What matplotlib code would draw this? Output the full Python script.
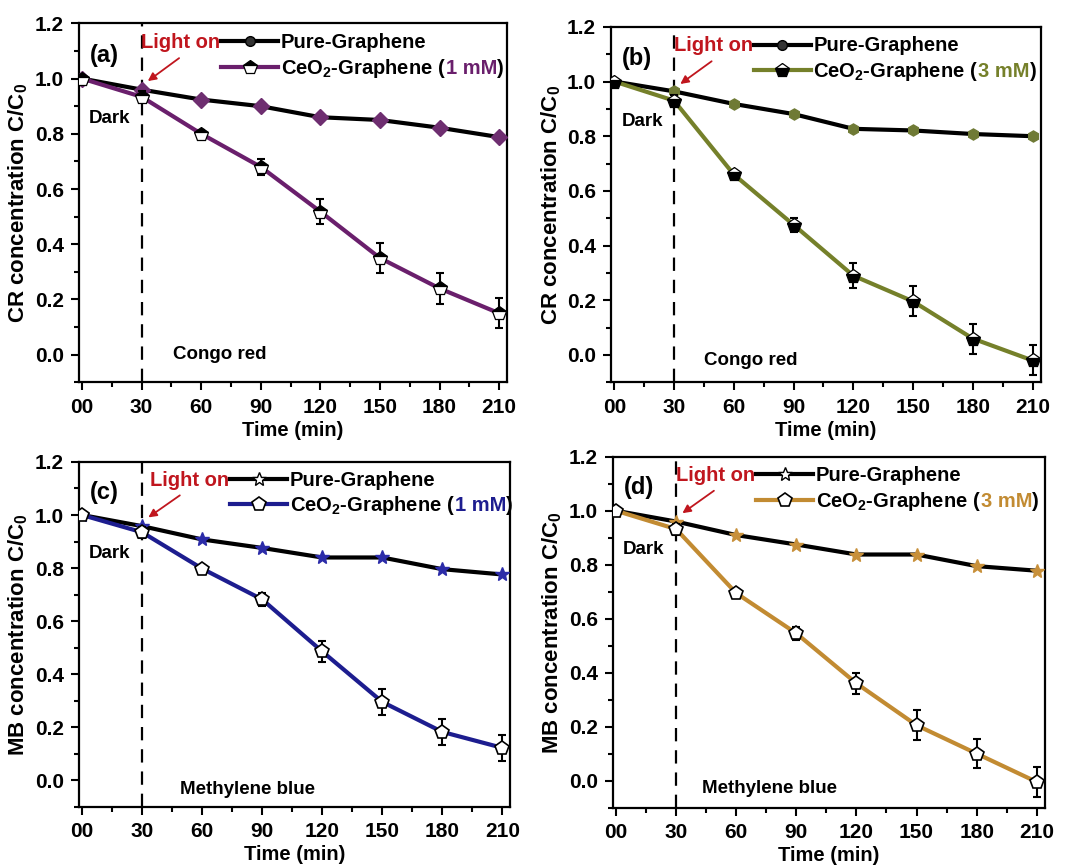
import matplotlib
matplotlib.use("Agg")
import matplotlib.pyplot as plt
from matplotlib.lines import Line2D
from matplotlib.offsetbox import TextArea, DrawingArea, HPacker, AnchoredOffsetbox
from matplotlib.ticker import MultipleLocator, FixedLocator, FixedFormatter

plt.rcParams['font.family'] = ['Liberation Sans', 'DejaVu Sans']
plt.rcParams['font.weight'] = 'bold'
plt.rcParams['axes.labelweight'] = 'bold'
plt.rcParams['mathtext.default'] = 'regular'

# ---------------- data ----------------
time = [0, 30, 60, 90, 120, 150, 180, 210]
xtick_labels = ["00", "30", "60", "90", "120", "150", "180", "210"]
yticks = [0.0, 0.2, 0.4, 0.6, 0.8, 1.0, 1.2]

a_pure = [1.0, 0.96, 0.924, 0.90, 0.86, 0.85, 0.822, 0.788]
a_ceo2 = [1.0, 0.934, 0.80, 0.68, 0.518, 0.35, 0.24, 0.15]
a_err = [0, 0.02, 0.012, 0.03, 0.045, 0.055, 0.055, 0.055]

b_pure = [1.0, 0.964, 0.918, 0.881, 0.827, 0.821, 0.808, 0.80]
b_ceo2 = [1.0, 0.93, 0.66, 0.476, 0.29, 0.196, 0.06, -0.02]
b_err = [0, 0.02, 0.015, 0.025, 0.045, 0.055, 0.055, 0.055]

c_pure = [1.0, 0.958, 0.908, 0.876, 0.84, 0.84, 0.796, 0.776]
c_ceo2 = [1.0, 0.935, 0.798, 0.682, 0.486, 0.296, 0.183, 0.123]
c_err = [0, 0.02, 0.012, 0.025, 0.04, 0.05, 0.05, 0.05]

d_pure = [1.0, 0.96, 0.91, 0.875, 0.838, 0.838, 0.795, 0.778]
d_ceo2 = [1.0, 0.932, 0.695, 0.546, 0.361, 0.206, 0.101, -0.004]
d_err = [0, 0.02, 0.015, 0.025, 0.04, 0.055, 0.055, 0.055]

panels = [
    dict(tag="(a)", pure=a_pure, ceo2=a_ceo2, err=a_err, conc="1 mM", dye="Congo red",
         ylabel="CR concentration C/C$_0$", color="#6a1f6c", pmark="D", pcolor="#6e2e70",
         cfill="top", pos=[0.0742, 0.558, 0.402, 0.415], dye_xy=(46, 0.0), leg_x=70),
    dict(tag="(b)", pure=b_pure, ceo2=b_ceo2, err=b_err, conc="3 mM", dye="Congo red",
         ylabel="CR concentration C/C$_0$", color="#75802a", pmark="h", pcolor="#6f7a35",
         cfill="bottom", pos=[0.574, 0.558, 0.403, 0.411], dye_xy=(45, -0.02), leg_x=70),
    dict(tag="(c)", pure=c_pure, ceo2=c_ceo2, err=c_err, conc="1 mM", dye="Methylene blue",
         ylabel="MB concentration C/C$_0$", color="#1d1d8f", pmark="*", pcolor="#2b2ba8",
         cfill="full", pos=[0.0742, 0.067, 0.405, 0.399], dye_xy=(49, -0.035), leg_x=74),
    dict(tag="(d)", pure=d_pure, ceo2=d_ceo2, err=d_err, conc="3 mM", dye="Methylene blue",
         ylabel="MB concentration C/C$_0$", color="#c28b32", pmark="*", pcolor="#c8903a",
         cfill="full", pos=[0.5756, 0.066, 0.4054, 0.406], dye_xy=(43, -0.03), leg_x=70),
]

fig = plt.figure(figsize=(10.65, 8.65), dpi=100)
FS_TICK = 15
FS_LEG = 14.5
XMIN, XMAX, YMIN, YMAX = -1.5, 214, -0.1, 1.2


def cmarker_kw(fill, ms):
    if fill == "full":
        return dict(marker="p", ms=ms, mfc="white", mec="black", mew=1.2)
    return dict(marker="p", ms=ms, fillstyle=fill, mfc="black", mfcalt="white", mec="black", mew=0.9)


for p in panels:
    ax = fig.add_axes(p["pos"])
    ax.axvline(30, color="black", lw=1.6, ls=(0, (6, 4)), zorder=1)
    star = p["pmark"] == "*"
    ax.plot(time, p["pure"], color="black", lw=3, marker=p["pmark"], ms=10 if star else 8,
            mfc=p["pcolor"], mec=p["pcolor"], zorder=3)
    ax.errorbar(time, p["ceo2"], yerr=p["err"], fmt="none", ecolor="black", elinewidth=1.5,
                capsize=3, capthick=1.5, zorder=4)
    ms_c = 10
    ax.plot(time, p["ceo2"], color=p["color"], lw=3, zorder=5, **cmarker_kw(p["cfill"], ms_c))

    ax.set_xlim(XMIN, XMAX)
    ax.set_ylim(YMIN, YMAX)
    ax.xaxis.set_major_locator(FixedLocator(time))
    ax.xaxis.set_major_formatter(FixedFormatter(xtick_labels))
    ax.xaxis.set_minor_locator(MultipleLocator(15))
    ax.yaxis.set_major_locator(FixedLocator(yticks))
    ax.yaxis.set_major_formatter(FixedFormatter(["%.1f" % v for v in yticks]))
    ax.yaxis.set_minor_locator(MultipleLocator(0.1))
    ax.tick_params(which="major", direction="out", length=6, width=1.5, labelsize=FS_TICK, pad=5)
    ax.tick_params(which="minor", direction="out", length=3.5, width=1.5)
    for lab in ax.get_xticklabels() + ax.get_yticklabels():
        lab.set_fontweight("bold")
    for s in ax.spines.values():
        s.set_linewidth(1.6)
    ax.set_xlabel("Time (min)", fontsize=14.5, fontweight="bold", labelpad=3)
    ax.set_ylabel(p["ylabel"], fontsize=16, fontweight="bold", labelpad=3)

    ax.text(4, 1.085, p["tag"], fontsize=17, fontweight="bold", va="center", ha="left")
    ax.text(3.5, 0.855, "Dark", fontsize=13.5, fontweight="bold", va="center", ha="left")
    ax.text(p["dye_xy"][0], p["dye_xy"][1], p["dye"], fontsize=13.5, fontweight="bold",
            va="center", ha="left")

    # custom legend rows
    tp = dict(fontsize=FS_LEG, fontweight="bold", color="black")
    da1 = DrawingArea(41, 10, 0, 0)
    da1.add_artist(Line2D([0, 41], [5, 5], color="black", lw=3))
    da1.add_artist(Line2D([20.5], [5], marker="*" if star else "o", ms=10 if star else 7,
                          mfc="white" if star else "#333333", mec="black", mew=1))
    da2 = DrawingArea(41, 10, 0, 0)
    da2.add_artist(Line2D([0, 41], [5, 5], color=p["color"], lw=3))
    da2.add_artist(Line2D([20.5], [5], **cmarker_kw(p["cfill"], ms_c)))
    row1 = HPacker(children=[da1, TextArea("Pure-Graphene", textprops=tp)],
                   align="baseline", pad=0, sep=2)
    label2 = HPacker(children=[TextArea("CeO$_2$-Graphene (", textprops=tp),
                               TextArea(p["conc"], textprops=dict(tp, color=p["color"])),
                               TextArea(")", textprops=tp)], align="baseline", pad=0, sep=0)
    row2 = HPacker(children=[da2, label2], align="baseline", pad=0, sep=2)
    xf = (p["leg_x"] - XMIN) / (XMAX - XMIN)
    for row, yv in ((row1, 1.13), (row2, 1.036)):
        yf = (yv - YMIN) / (YMAX - YMIN)
        anc = AnchoredOffsetbox(loc="center left", child=row, pad=0, borderpad=0, frameon=False,
                                bbox_to_anchor=(xf, yf), bbox_transform=ax.transAxes)
        anc.set_clip_on(False)
        ax.add_artist(anc)
    ax.text(p["leg_x"] - 0.5, 1.13, "Light on", ha="right", va="center", color="#c0161e",
            fontsize=FS_LEG, fontweight="bold")
    ax.annotate("", xy=(32, 0.985), xytext=(50, 1.08),
                arrowprops=dict(arrowstyle="-|>", color="#c0161e", lw=1.3, mutation_scale=12))

fig.savefig("out.png", dpi=100)
